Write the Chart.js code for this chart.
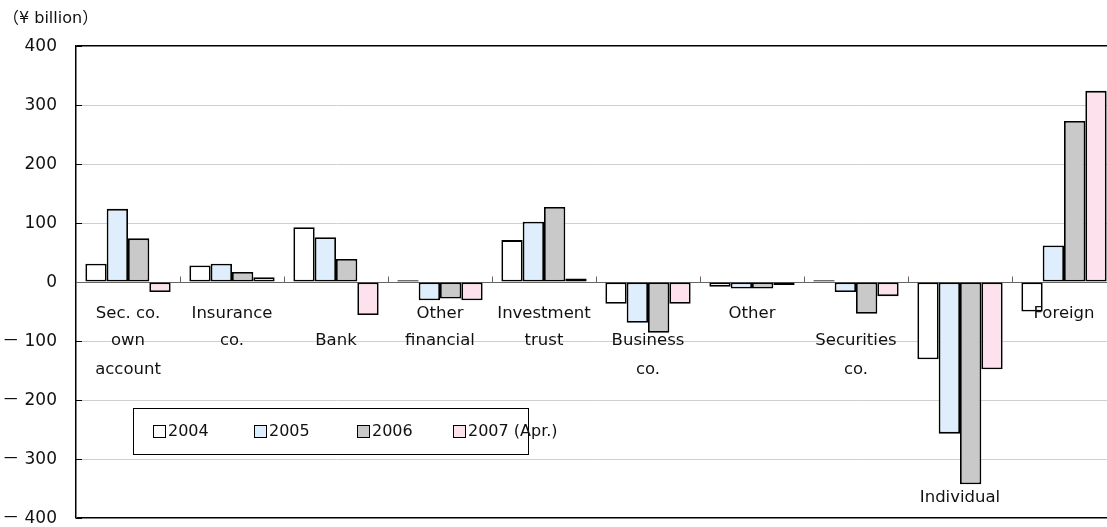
<!DOCTYPE html>
<html>
<head>
<meta charset="utf-8">
<script src="https://cdn.jsdelivr.net/npm/chart.js@4"></script>
<style>
  html, body { margin: 0; padding: 0; background: #fff; overflow: hidden; }
  canvas { display: block; }
</style>
</head>
<body>
<canvas id="myChart" width="1116" height="527"></canvas>
<script>
// categories (multi-line labels) and the four yearly series, ¥ billion
var categories = [
  ['Sec. co.', 'own', 'account'],
  ['Insurance', 'co.'],
  ['Bank'],
  ['Other', 'financial'],
  ['Investment', 'trust'],
  ['Business', 'co.'],
  ['Other'],
  ['Securities', 'co.'],
  ['Individual'],
  ['Foreign']
];
var years = ['2004', '2005', '2006', '2007 (Apr.)'];
var v2004 = [31, 28, 93, 3, 71, -37, -8, 3, -131, -50];
var v2005 = [124, 31, 76, -31, 102, -69, -11, -17, -257, 62];
var v2006 = [74, 17, 39, -28, 127, -86, -11, -54, -343, 273];
var v2007 = [-17, 8, -56, -31, 6, -37, -5, -24, -148, 324];
var yTicks = [400, 300, 200, 100, 0, -100, -200, -300, -400];
var yTickLabels = ['400', '300', '200', '100', '0', '－ 100', '－ 200', '－ 300', '－ 400'];

var fills = ['#ffffff', '#deeefd', '#c9c9c9', '#fde2ee'];
var FONT = '"DejaVu Sans", "Noto Sans CJK JP", sans-serif';

// where the label text rows sit, in axis units
var labelRows = [-53, -100, -148];
var labelStart = [0, 0, 1, 0, 0, 1, 0, 1, -1, 0];

var decorPlugin = {
  id: 'decor',
  beforeDatasetsDraw: function(chart) {
    var ctx = chart.ctx, x = chart.scales.x, y = chart.scales.y, a = chart.chartArea;
    ctx.save();
    // short inner ticks + labels on the value axis
    ctx.strokeStyle = '#000';
    ctx.lineWidth = 1;
    ctx.fillStyle = '#111';
    ctx.font = '17px ' + FONT;
    ctx.textAlign = 'right';
    ctx.textBaseline = 'middle';
    yTicks.forEach(function(t, i) {
      var py = Math.round(y.getPixelForValue(t)) + 0.5;
      ctx.beginPath(); ctx.moveTo(a.left, py); ctx.lineTo(a.left + 6, py); ctx.stroke();
      ctx.fillText(yTickLabels[i], a.left - 19, py);
    });
    // zero line and category dividers
    var zy = Math.round(y.getPixelForValue(0)) + 0.5;
    ctx.strokeStyle = '#666';
    ctx.beginPath(); ctx.moveTo(a.left, zy); ctx.lineTo(a.right, zy); ctx.stroke();
    for (var i = 1; i < categories.length; i++) {
      var px = Math.round((x.getPixelForValue(i - 1) + x.getPixelForValue(i)) / 2) + 0.5;
      ctx.beginPath(); ctx.moveTo(px, zy - 6); ctx.lineTo(px, zy); ctx.stroke();
    }
    ctx.restore();
  },
  afterDatasetsDraw: function(chart) {
    var ctx = chart.ctx, x = chart.scales.x, y = chart.scales.y;
    ctx.save();
    // category labels inside the plot
    ctx.fillStyle = '#111';
    ctx.font = '16.5px ' + FONT;
    ctx.textAlign = 'center';
    ctx.textBaseline = 'middle';
    categories.forEach(function(lines, i) {
      var cx = x.getPixelForValue(i);
      lines.forEach(function(s, k) {
        var py = labelStart[i] < 0 ? y.getPixelForValue(-365) : y.getPixelForValue(labelRows[labelStart[i] + k]);
        ctx.fillText(s, cx, py);
      });
    });
    // legend box
    var lx = 133.5, ly = 408.5, lw = 395, lh = 46;
    ctx.fillStyle = '#fff';
    ctx.fillRect(lx, ly, lw, lh);
    ctx.strokeStyle = '#000';
    ctx.lineWidth = 1;
    ctx.strokeRect(lx, ly, lw, lh);
    ctx.font = '16px ' + FONT;
    ctx.textAlign = 'left';
    var itemX = [153, 254, 357, 453];
    chart.data.datasets.forEach(function(ds, i) {
      ctx.fillStyle = ds.backgroundColor;
      ctx.fillRect(itemX[i] + 0.5, 425.5, 12, 12);
      ctx.strokeRect(itemX[i] + 0.5, 425.5, 12, 12);
      ctx.fillStyle = '#111';
      ctx.fillText(ds.label, itemX[i] + 15, 432);
    });
    // unit caption
    ctx.font = '16px ' + FONT;
    ctx.fillText('（¥ billion）', 3, 19);
    ctx.restore();
  }
};

var ctx = document.getElementById('myChart').getContext('2d');
var myChart = new Chart(ctx, {
  type: 'bar',
  data: {
    labels: categories.map(function(c) { return c.join(' '); }),
    datasets: [
      { label: years[0], data: v2004, backgroundColor: fills[0] },
      { label: years[1], data: v2005, backgroundColor: fills[1] },
      { label: years[2], data: v2006, backgroundColor: fills[2] },
      { label: years[3], data: v2007, backgroundColor: fills[3] }
    ].map(function(d) {
      d.borderColor = '#000';
      d.borderWidth = 1.8;
      d.borderSkipped = false;
      d.barPercentage = 1;
      d.categoryPercentage = 0.82;
      return d;
    })
  },
  options: {
    responsive: false,
    animation: false,
    layout: { padding: { top: 46, bottom: 9, left: 0, right: 0 } },
    plugins: {
      legend: { display: false },
      tooltip: { enabled: false },
      title: { display: false }
    },
    scales: {
      x: { display: false },
      y: {
        min: -400,
        max: 400,
        afterFit: function(s) { s.width = 76; },
        afterBuildTicks: function(s) { s.ticks = yTicks.map(function(v) { return { value: v }; }); },
        ticks: { display: false },
        grid: {
          drawTicks: false,
          color: function(c) { return (c.tick && Math.abs(c.tick.value) === 400) ? '#000' : '#cfcfcf'; },
          lineWidth: function(c) { return (c.tick && Math.abs(c.tick.value) === 400) ? 1.5 : 1; }
        },
        border: { display: true, color: '#000', width: 1.5 }
      }
    }
  },
  plugins: [decorPlugin]
});
</script>
</body>
</html>
